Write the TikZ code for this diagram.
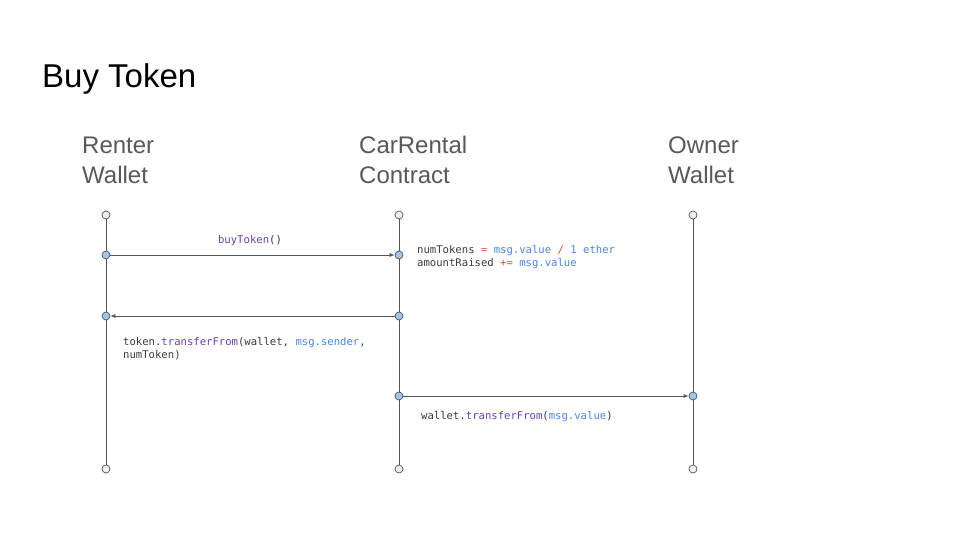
\documentclass[tikz,border=0pt]{standalone}
\usepackage{fontspec}
\setmainfont{Liberation Sans}
\newfontfamily\codefont{DejaVu Sans Mono}
\usetikzlibrary{arrows.meta}
\definecolor{hdr}{HTML}{595959}
\definecolor{life}{HTML}{555555}
\definecolor{codetxt}{HTML}{3C3C3C}
\definecolor{cpurple}{HTML}{6741B5}
\definecolor{cblue}{HTML}{4A86E8}
\definecolor{cred}{HTML}{D2523A}
\definecolor{endfill}{HTML}{EEEEEE}
\definecolor{msgfill}{HTML}{9FC5E8}
\newcommand{\kp}[1]{\textcolor{cpurple}{#1}}
\newcommand{\kb}[1]{\textcolor{cblue}{#1}}
\newcommand{\kr}[1]{\textcolor{cred}{#1}}
\begin{document}
\begin{tikzpicture}[x=1pt,y=-1pt,
  endpt/.style={circle,draw=life,fill=endfill,line width=0.7pt,minimum size=8pt,inner sep=0pt},
  msgpt/.style={circle,draw=life,fill=msgfill,line width=0.7pt,minimum size=8pt,inner sep=0pt},
  lifeline/.style={draw=life,line width=0.9pt},
  msgline/.style={draw=life,line width=0.8pt,-{Latex[length=5pt,width=4pt]}},
  hdrtext/.style={anchor=base west,inner sep=0pt,text=hdr,font=\fontsize{24}{29}\selectfont,align=left},
  code/.style={anchor=base west,inner sep=0pt,text=codetxt,font=\codefont\fontsize{10.6}{13}\selectfont,align=left}]
\useasboundingbox (0,0) rectangle (960,540);
\fill[white] (0,0) rectangle (960,540);
% title
\node[anchor=base west,inner sep=0pt,font=\fontsize{33}{38}\selectfont] (title) at (42,88) {Buy Token};
% headers (base = last line)
\node[hdrtext] (h1) at (82,183) {Renter\\Wallet};
\node[hdrtext] (h2) at (359,183) {CarRental\\Contract};
\node[hdrtext] (h3) at (668,183) {Owner\\Wallet};
% lifelines
\foreach \n/\x in {r/106,c/399,o/693}{
  \node[endpt] (\n top) at (\x,215) {};
  \node[endpt] (\n bot) at (\x,469) {};
}
\draw[lifeline] (rtop) -- (rbot);
\draw[lifeline] (ctop) -- (cbot);
\draw[lifeline] (otop) -- (obot);
% message points
\node[msgpt] (r1) at (106,255) {};
\node[msgpt] (c1) at (399,255) {};
\node[msgpt] (c2) at (399,316) {};
\node[msgpt] (r2) at (106,316) {};
\node[msgpt] (c3) at (399,396) {};
\node[msgpt] (o3) at (693,396) {};
% messages
\draw[msgline] (r1) -- (c1);
\draw[msgline] (c2) -- (r2);
\draw[msgline] (c3) -- (o3);
% labels
\node[code,anchor=base] (l1) at (250,243) {\kp{buyToken}()};
\node[code] (l2) at (417,266) {numTokens \kr{=} \kb{msg.value} \kr{/} \kb{1 ether}\\amountRaised \kr{+=} \kb{msg.value}};
\node[code] (l3) at (123,358) {token.\kp{transferFrom}(wallet, \kb{msg.sender},\\numToken)};
\node[code] (l4) at (421,419) {wallet.\kp{transferFrom}(\kb{msg.value})};
\end{tikzpicture}
\end{document}
